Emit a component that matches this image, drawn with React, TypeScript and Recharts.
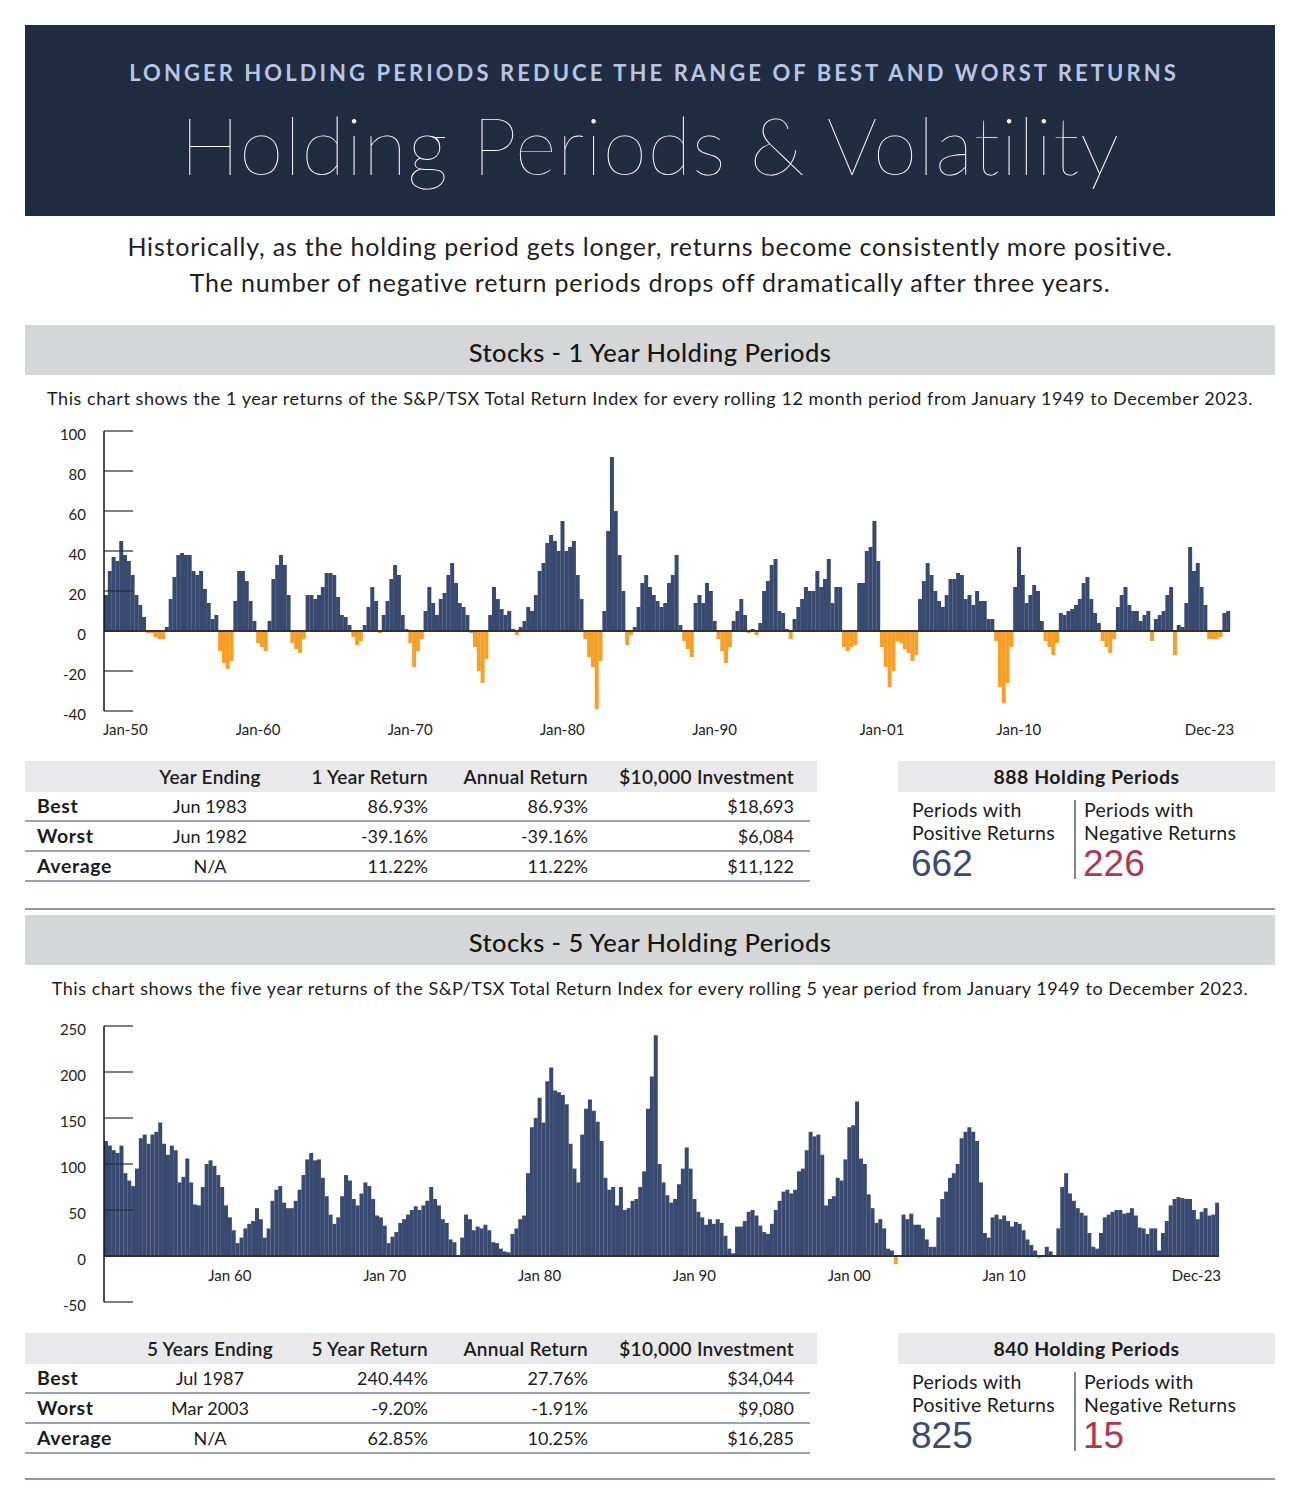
import {BarChart, Bar, Cell, XAxis, YAxis, ReferenceLine} from 'recharts';

// 1 year rolling returns, one value per quarter, Q1 1950 .. Q4 2023
const oneYearStart = 1950;
const oneYearReturns = [
    18, 30, 37, 35, 45, 38, 35, 28, 18, 13, 7, -1, -1, -3, -4, -4,
    2, 16, 27, 38, 39, 38, 38, 30, 28, 30, 21, 14, 6, 8, -10, -16,
    -19, -15, 15, 30, 30, 25, 15, 5, -6, -8, -10, 5, 26, 33, 38, 33,
    18, -6, -9, -11, -4, 18, 18, 16, 18, 22, 29, 29, 28, 17, 8, 7,
    3, -3, -7, -5, 3, 12, 22, 15, -1, 8, 15, 26, 33, 28, 8, 1,
    -6, -18, -10, -4, 10, 22, 14, 8, 16, 19, 28, 34, 24, 14, 12, 8,
    -1, -8, -20, -26, -14, 8, 22, 16, 11, 8, 10, 1, -2, 2, 5, 12,
    10, 18, 30, 34, 44, 48, 45, 40, 55, 40, 42, 45, 28, 16, -4, -13,
    -18, -39, -15, 10, 50, 87, 60, 38, 20, -7, -2, 2, 12, 24, 28, 22,
    18, 15, 12, 14, 24, 28, 38, 3, -5, -9, -13, 14, 18, 14, 24, 20,
    5, -4, -10, -16, -8, 5, 10, 16, 8, -1, 1, -2, 4, 20, 25, 33,
    36, 10, 9, 1, -4, 6, 12, 16, 22, 20, 20, 30, 22, 26, 36, 14,
    22, 22, -8, -10, -8, -7, 24, 24, 40, 42, 55, 35, -8, -18, -28, -20,
    -5, -6, -9, -11, -15, -12, 16, 25, 34, 28, 20, 15, 12, 18, 26, 26,
    29, 28, 16, 18, 13, 20, 15, 15, 6, 6, -5, -28, -36, -26, -8, 22,
    42, 28, 14, 18, 23, 20, 5, -5, -8, -12, -6, 9, 8, 10, 11, 13,
    16, 24, 27, 16, 9, 4, -5, -8, -11, -4, 12, 18, 22, 13, 10, 10,
    5, 8, 10, -5, 6, 8, 10, 18, 22, -12, 3, 2, 14, 42, 30, 34,
    22, 13, -4, -4, -4, -3, 9, 10,
];
const oneYearTickKeys = ['1950Q1', '1960Q1', '1970Q1', '1980Q1', '1990Q1', '2001Q1', '2010Q1', '2023Q4'];
const oneYearTickLabels = ['Jan-50', 'Jan-60', 'Jan-70', 'Jan-80', 'Jan-90', 'Jan-01', 'Jan-10', 'Dec-23'];
const oneYearYTicks = [-40, -20, 0, 20, 40, 60, 80, 100];

// 5 year rolling returns, one value per quarter, Q1 1952 .. Q4 2023
const fiveYearStart = 1952;
const fiveYearReturns = [
    125, 120, 115, 112, 120, 90, 82, 76, 95, 128, 132, 122, 132, 135, 145, 122,
    110, 120, 115, 80, 86, 106, 80, 56, 55, 75, 100, 104, 98, 88, 75, 55,
    42, 28, 14, 20, 30, 35, 38, 52, 40, 20, 30, 60, 72, 76, 58, 52,
    52, 60, 72, 88, 105, 112, 104, 105, 85, 65, 45, 35, 42, 65, 88, 82,
    62, 55, 68, 80, 76, 62, 44, 42, 33, 14, 21, 26, 36, 40, 45, 50,
    54, 50, 55, 60, 75, 62, 55, 40, 36, 18, 15, 0, 20, 45, 40, 28,
    32, 30, 34, 28, 15, 14, 8, 5, 4, 24, 30, 40, 44, 90, 140, 150,
    172, 145, 190, 205, 180, 178, 175, 165, 122, 95, 80, 132, 160, 170, 158, 146,
    125, 85, 72, 75, 55, 75, 50, 52, 60, 62, 75, 92, 160, 195, 240, 100,
    80, 66, 58, 62, 78, 95, 118, 95, 62, 48, 42, 34, 40, 35, 40, 36,
    22, 8, 3, 32, 32, 38, 48, 50, 44, 33, 26, 24, 35, 50, 60, 70,
    72, 68, 72, 92, 95, 115, 135, 130, 132, 110, 55, 62, 65, 85, 82, 105,
    140, 142, 168, 106, 100, 67, 52, 36, 40, 30, 8, 6, -9, 1, 45, 40,
    46, 34, 34, 30, 18, 10, 10, 42, 62, 70, 85, 90, 100, 128, 135, 140,
    135, 125, 80, 25, 20, 42, 45, 40, 44, 38, 32, 37, 35, 28, 18, 12,
    6, -2, 1, 10, 5, -1, 30, 75, 90, 68, 60, 52, 47, 44, 25, 10,
    8, 25, 42, 45, 48, 50, 50, 46, 47, 52, 44, 31, 30, 24, 30, 30,
    6, 25, 38, 55, 62, 64, 63, 62, 62, 50, 40, 48, 52, 44, 45, 58,
];
const fiveYearTickKeys = ['1960Q1', '1970Q1', '1980Q1', '1990Q1', '2000Q1', '2010Q1', '2023Q4'];
const fiveYearTickLabels = ['Jan 60', 'Jan 70', 'Jan 80', 'Jan 90', 'Jan 00', 'Jan 10', 'Dec-23'];
const fiveYearYTicks = [-50, 0, 50, 100, 150, 200, 250];

const table1Headers = ['Year Ending', '1 Year Return', 'Annual Return', '$10,000 Investment'];
const table1Rows = [
    ['Best', 'Jun 1983', '86.93%', '86.93%', '$18,693'],
    ['Worst', 'Jun 1982', '-39.16%', '-39.16%', '$6,084'],
    ['Average', 'N/A', '11.22%', '11.22%', '$11,122'],
];
const table2Headers = ['5 Years Ending', '5 Year Return', 'Annual Return', '$10,000 Investment'];
const table2Rows = [
    ['Best', 'Jul 1987', '240.44%', '27.76%', '$34,044'],
    ['Worst', 'Mar 2003', '-9.20%', '-1.91%', '$9,080'],
    ['Average', 'N/A', '62.85%', '10.25%', '$16,285'],
];
const stats1 = {total: 888, positive: 662, negative: 226};
const stats2 = {total: 840, positive: 825, negative: 15};

const NAVY = '#394a70';
const ORANGE = '#f6a02a';
const FONT = 'Lato, sans-serif';

const toRows = (start: number, values: number[]) =>
    values.map((value, i) => ({period: `${start + Math.floor(i / 4)}Q${(i % 4) + 1}`, value}));

const YTick = ({x, y, payload}: any) => (
    <g>
        <line x1={x} x2={x + 29} y1={y} y2={y} stroke="#2a2a2a" strokeWidth={1.2}/>
        <text x={x - 18} y={y} dy={9} textAnchor="end" fontSize={15} fill="#222" fontFamily={FONT}>
            {payload.value}
        </text>
    </g>
);

const makeXTick = (keys: string[], labels: string[], dy: number, dxStart: number, dxEnd: number) =>
    ({x, y, payload}: any) => {
        const idx = keys.indexOf(payload.value);
        const anchor = idx === 0 && dxStart !== 0 ? 'start' : idx === keys.length - 1 ? 'end' : 'middle';
        const dx = anchor === 'start' ? dxStart : anchor === 'end' ? dxEnd : 0;
        return (
            <text x={x + dx} y={y + dy} textAnchor={anchor} fontSize={15} fill="#222" fontFamily={FONT}>
                {labels[idx]}
            </text>
        );
    };

const ReturnsChart = ({data, domain, yTicks, tickKeys, tickLabels, height, right, xHeight, xDy, dxStart, dxEnd}: any) => (
    <BarChart width={1300} height={height} data={data} barCategoryGap={0} barGap={0}
              margin={{top: 11, right, bottom: 0, left: 0}}>
        <XAxis dataKey="period" type="category" ticks={tickKeys} interval={0} axisLine={false} tickLine={false}
               tickSize={0} tickMargin={0} height={xHeight}
               tick={makeXTick(tickKeys, tickLabels, xDy, dxStart, dxEnd)}/>
        <YAxis type="number" domain={domain} ticks={yTicks} interval={0} width={104} tickSize={0} tickMargin={0}
               tickLine={false} axisLine={{stroke: '#111', strokeWidth: 1.5}} tick={<YTick/>}/>
        <Bar dataKey="value" isAnimationActive={false}>
            {data.map((d: any, i: number) => <Cell key={i} fill={d.value < 0 ? ORANGE : NAVY}/>)}
        </Bar>
        <ReferenceLine y={0} stroke="#333" strokeWidth={2}/>
    </BarChart>
);

const abs = (s: any) => ({position: 'absolute' as const, ...s});

const ReturnTable = ({top, headers, rows}: { top: number, headers: string[], rows: string[][] }) => {
    const cells = (r: string[], head: boolean) => {
        const st = head ? {fontWeight: 600, fontSize: 19, letterSpacing: 0.3} : {};
        return [
            <div key="a" style={abs({left: 37, fontWeight: 700, fontSize: 19.5, letterSpacing: 0.6})}>{r[0]}</div>,
            <div key="b" style={abs({left: 110, width: 200, textAlign: 'center', ...st})}>{r[1]}</div>,
            <div key="c" style={abs({right: 1300 - 428, ...st})}>{r[2]}</div>,
            <div key="d" style={abs({right: 1300 - 588, ...st})}>{r[3]}</div>,
            <div key="e" style={abs({right: 1300 - 794, ...st})}>{r[4]}</div>,
        ];
    };
    return (
        <div style={abs({left: 0, top, width: 1300, height: 125, fontSize: 18, color: '#1c1c1c'})}>
            <div style={abs({left: 25, top: 0, width: 792, height: 31, background: '#e9e9eb', lineHeight: '31px'})}>
                <div style={abs({left: -25, top: 0, width: 1300, height: 31})}>{cells(['', ...headers], true)}</div>
            </div>
            {rows.map((r, i) => (
                <div key={i} style={abs({left: 0, top: 30 + 30 * i, width: 1300, height: 30, lineHeight: '30px'})}>
                    {cells(r, false)}
                    <div style={abs({left: 25, top: 29, width: 785, height: 1.5, background: '#9aa2b3'})}/>
                </div>
            ))}
        </div>
    );
};

const StatsBox = ({top, total, positive, negative}: { top: number, total: number, positive: number, negative: number }) => (
    <div style={abs({left: 0, top, width: 1300, height: 125, color: '#1c1c1c'})}>
        <div style={abs({left: 898, top: 0, width: 377, height: 31, background: '#e9e9eb', lineHeight: '31px',
            textAlign: 'center', fontSize: 19.5, letterSpacing: 0.5, fontWeight: 700})}>{total} Holding Periods</div>
        <div style={abs({left: 912, top: 37, fontSize: 19.5, letterSpacing: 0.3, lineHeight: '23px'})}>
            Periods with<br/>Positive Returns
        </div>
        <div style={abs({left: 911, top: 83, fontSize: 37, lineHeight: '40px', color: '#3a4a75',
            fontFamily: '"Liberation Sans", Arial, sans-serif'})}>{positive}</div>
        <div style={abs({left: 1074, top: 39, width: 1.5, height: 79, background: '#7d8599'})}/>
        <div style={abs({left: 1084, top: 37, fontSize: 19.5, letterSpacing: 0.3, lineHeight: '23px'})}>
            Periods with<br/>Negative Returns
        </div>
        <div style={abs({left: 1083, top: 83, fontSize: 37, lineHeight: '40px', color: '#b23552',
            fontFamily: '"Liberation Sans", Arial, sans-serif'})}>{negative}</div>
    </div>
);

const SectionBar = ({top, title, note}: { top: number, title: string, note: string }) => (
    <>
        <div style={abs({left: 25, top, width: 1250, height: 50, background: '#d5d6d8', lineHeight: '54px',
            textAlign: 'center', fontSize: 25.5, letterSpacing: 0.45, fontWeight: 500, color: '#161616'})}>{title}</div>
        <div style={abs({left: 0, top: top + 62, width: 1300, textAlign: 'center', fontSize: 18, letterSpacing: 0.55,
            lineHeight: '22px', color: '#1c1c1c'})}>{note}</div>
    </>
);

export default function App() {
    const data1 = toRows(oneYearStart, oneYearReturns);
    const data2 = toRows(fiveYearStart, fiveYearReturns);
    return (
        <div style={abs({left: 0, top: 0, width: 1300, height: 1490, background: '#fff', fontFamily: FONT})}>
            <div style={abs({left: 25, top: 25, width: 1250, height: 191, background: '#1f2c41'})}/>
            <div style={abs({left: 4, top: 60, width: 1300, textAlign: 'center', fontSize: 22, lineHeight: '26px',
                fontWeight: 700, letterSpacing: 3.07, color: '#b9c5e2'})}>
                LONGER HOLDING PERIODS REDUCE THE RANGE OF BEST AND WORST RETURNS
            </div>
            <div style={abs({left: 0, top: 104, width: 1300, textAlign: 'center', fontSize: 80, lineHeight: '80px',
                fontWeight: 200, letterSpacing: 0.8, color: '#fff'})}>
                Holding Periods &amp; Volatility
            </div>
            <div style={abs({left: 0, top: 228, width: 1300, textAlign: 'center', fontSize: 25, letterSpacing: 0.8,
                lineHeight: '36px', color: '#1e1e1e'})}>
                Historically, as the holding period gets longer, returns become consistently more positive.<br/>
                The number of negative return periods drops off dramatically after three years.
            </div>

            <SectionBar top={325} title="Stocks - 1 Year Holding Periods"
                        note="This chart shows the 1 year returns of the S&P/TSX Total Return Index for every rolling 12 month period from January 1949 to December 2023."/>
            <div style={abs({left: 0, top: 420})}>
                <ReturnsChart data={data1} domain={[-40, 100]} yTicks={oneYearYTicks} tickKeys={oneYearTickKeys}
                              tickLabels={oneYearTickLabels} height={330} right={70} xHeight={39} xDy={24}
                              dxStart={-3} dxEnd={6}/>
            </div>
            <ReturnTable top={761} headers={table1Headers} rows={table1Rows}/>
            <StatsBox top={761} {...stats1}/>
            <div style={abs({left: 25, top: 908, width: 1250, height: 2, background: '#8f97a8'})}/>

            <SectionBar top={915} title="Stocks - 5 Year Holding Periods"
                        note="This chart shows the five year returns of the S&P/TSX Total Return Index for every rolling 5 year period from January 1949 to December 2023."/>
            <div style={abs({left: 0, top: 1015})}>
                <ReturnsChart data={data2} domain={[-50, 250]} yTicks={fiveYearYTicks} tickKeys={fiveYearTickKeys}
                              tickLabels={fiveYearTickLabels} height={310} right={81} xHeight={23} xDy={-21}
                              dxStart={0} dxEnd={4}/>
            </div>
            <ReturnTable top={1333} headers={table2Headers} rows={table2Rows}/>
            <StatsBox top={1333} {...stats2}/>
            <div style={abs({left: 25, top: 1478, width: 1250, height: 2, background: '#8f97a8'})}/>
        </div>
    );
}
